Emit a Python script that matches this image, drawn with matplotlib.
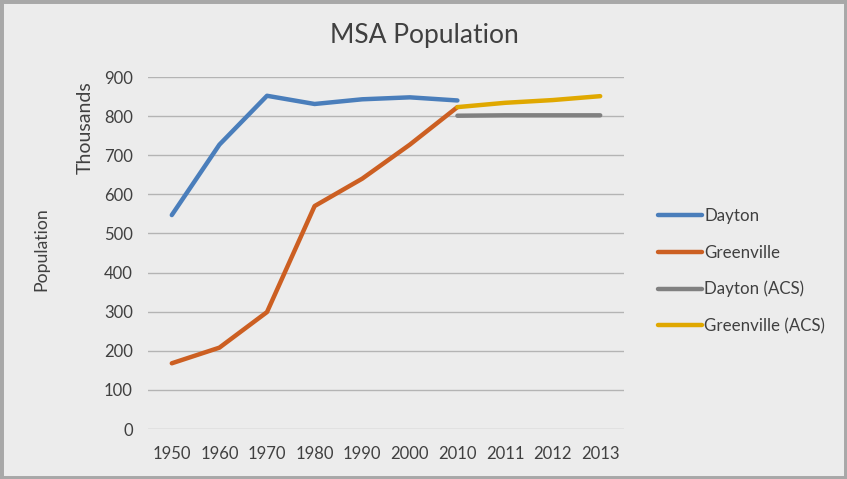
import matplotlib
matplotlib.use("Agg")
import matplotlib.pyplot as plt
import numpy as np

years = ["1950", "1960", "1970", "1980", "1990", "2000", "2010", "2011", "2012", "2013"]
dayton = [547, 727, 852, 831, 843, 848, 840]
greenville = [168, 208, 299, 570, 640, 727, 823]
dayton_acs = [801, 802, 802, 802]
greenville_acs = [823, 834, 841, 851]

BG = "#ececec"
TEXT = "#404040"
GRID = "#b4b4b4"
FONT = ["Lato", "DejaVu Sans"]

plt.rcParams["font.family"] = FONT

fig = plt.figure(figsize=(8.47, 4.79), dpi=100)
fig.patch.set_facecolor(BG)
ax = fig.add_axes([148 / 847, 1 - 429 / 479, 476 / 847, 352 / 479])
ax.set_facecolor(BG)

x = np.arange(len(years))
ax.plot(x[:7], dayton, color="#4a7ebb", lw=3.2, label="Dayton", solid_capstyle="round")
ax.plot(x[:7], greenville, color="#cc5f22", lw=3.2, label="Greenville", solid_capstyle="round")
ax.plot(x[6:], dayton_acs, color="#808080", lw=3.2, label="Dayton (ACS)", solid_capstyle="round")
ax.plot(x[6:], greenville_acs, color="#e0a800", lw=3.2, label="Greenville (ACS)", solid_capstyle="round")

ax.set_xlim(-0.5, len(years) - 0.5)
ax.set_ylim(0, 900)
ax.set_yticks(range(0, 901, 100))
ax.set_xticks(x)
ax.set_xticklabels(years)
ax.grid(axis="y", color=GRID, lw=1)
ax.set_axisbelow(True)
for s in ax.spines.values():
    s.set_visible(False)
ax.tick_params(axis="both", length=0, labelsize=12, colors=TEXT)
ax.tick_params(axis="y", pad=11)
ax.tick_params(axis="x", pad=12)

fig.text(424 / 847, 1 - 35 / 479, "MSA Population", ha="center", va="center",
         fontsize=19, color=TEXT)
fig.text(85 / 847, 1 - 128 / 479, "Thousands", ha="center", va="center",
         rotation=90, fontsize=14, color=TEXT)
fig.text(41 / 847, 1 - 249 / 479, "Population", ha="center", va="center",
         rotation=90, fontsize=12.7, color=TEXT)

leg = fig.legend(loc="upper left", bbox_to_anchor=(643 / 847, 1 - 193 / 479),
                 frameon=False, fontsize=12.2, labelspacing=1.2,
                 handlelength=2.6, handletextpad=0.1)
for t in leg.get_texts():
    t.set_color(TEXT)

# grey frame round the picture
fig.patches.append(plt.Rectangle((0, 0), 1, 1, transform=fig.transFigure,
                                 fill=False, edgecolor="#a8a8a8", lw=5))

fig.savefig("out.png", dpi=100, facecolor=fig.get_facecolor())
